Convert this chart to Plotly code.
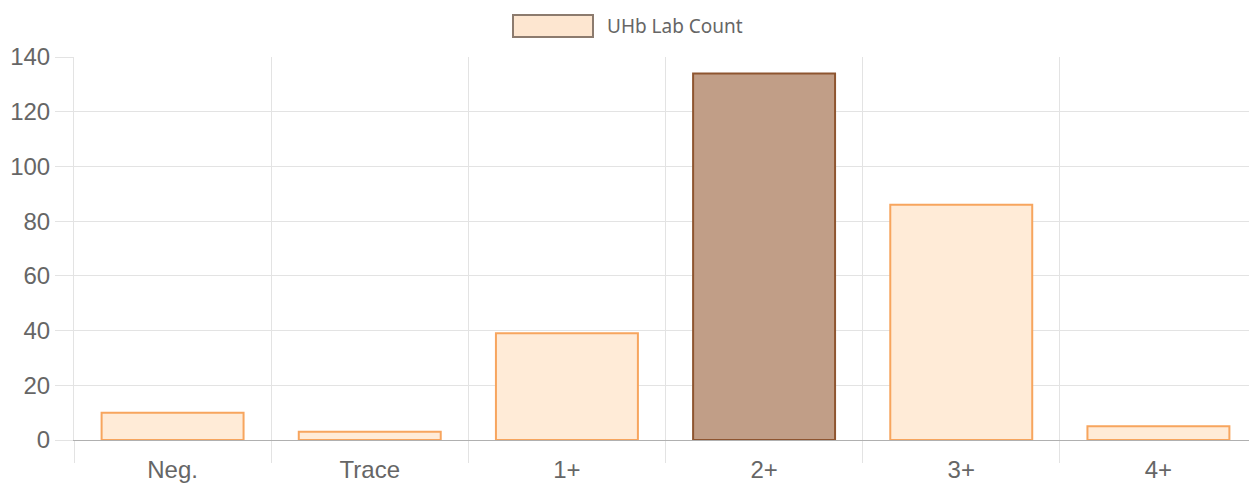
import plotly.graph_objects as go

categories = ["Neg.", "Trace", "1+", "2+", "3+", "4+"]
counts = [10, 3, 39, 134, 86, 5]
series_name = "UHb Lab Count"
highlight = "2+"

fill_normal = "rgba(255,235,215,1)"
line_normal = "#f7a55e"
fill_hi = "#c19e87"
line_hi = "#8e5530"

fills = [fill_hi if c == highlight else fill_normal for c in categories]
lines = [line_hi if c == highlight else line_normal for c in categories]

fig = go.Figure()
fig.add_trace(go.Bar(
    x=categories, y=counts, name=series_name,
    marker=dict(color=fills, line=dict(color=lines, width=2)),
    width=0.72, showlegend=False,
))

# page body has an 8px margin, so the figure is sized/offset to compensate
fig.update_layout(
    width=1249, height=477,
    margin=dict(l=66, r=0, t=49, b=45, autoexpand=False),
    paper_bgcolor="white", plot_bgcolor="white",
    font=dict(family="Liberation Sans, Arial", color="#666666", size=24),
    bargap=0.28,
)
fig.update_xaxes(
    type="category", tickson="boundaries", showgrid=True, gridcolor="#e3e3e3", gridwidth=1,
    ticks="outside", ticklen=22, tickcolor="#e3e3e3",
    showline=True, linecolor="#b0b0b0", linewidth=1,
    tickfont=dict(size=24, color="#666666"), range=[-0.5, 5.5],
    ticklabelstandoff=8, automargin=False,
)
fig.update_yaxes(
    range=[0, 140], dtick=20, showgrid=True, gridcolor="#e3e3e3", gridwidth=1,
    ticks="outside", ticklen=18, tickcolor="#e3e3e3",
    zeroline=False, showline=True, linecolor="#e3e3e3",
    tickfont=dict(size=24, color="#666666"), automargin=False,
)

# legend box (Chart.js style)
fig.add_shape(type="rect", xref="paper", yref="paper",
              x0=(513 - 74) / 1183, x1=(593 - 74) / 1183,
              y0=(440 - 37) / 383, y1=(440 - 15) / 383,
              fillcolor="#fde6d0", line=dict(color="#8c7b6e", width=2))
fig.add_annotation(xref="paper", yref="paper",
                   x=(605 - 74) / 1183, y=(440 - 26) / 383,
                   xanchor="left", yanchor="middle", showarrow=False,
                   text=series_name,
                   font=dict(family="Noto Sans, Open Sans", size=19, color="#666666"))

fig.write_html("out.html")
